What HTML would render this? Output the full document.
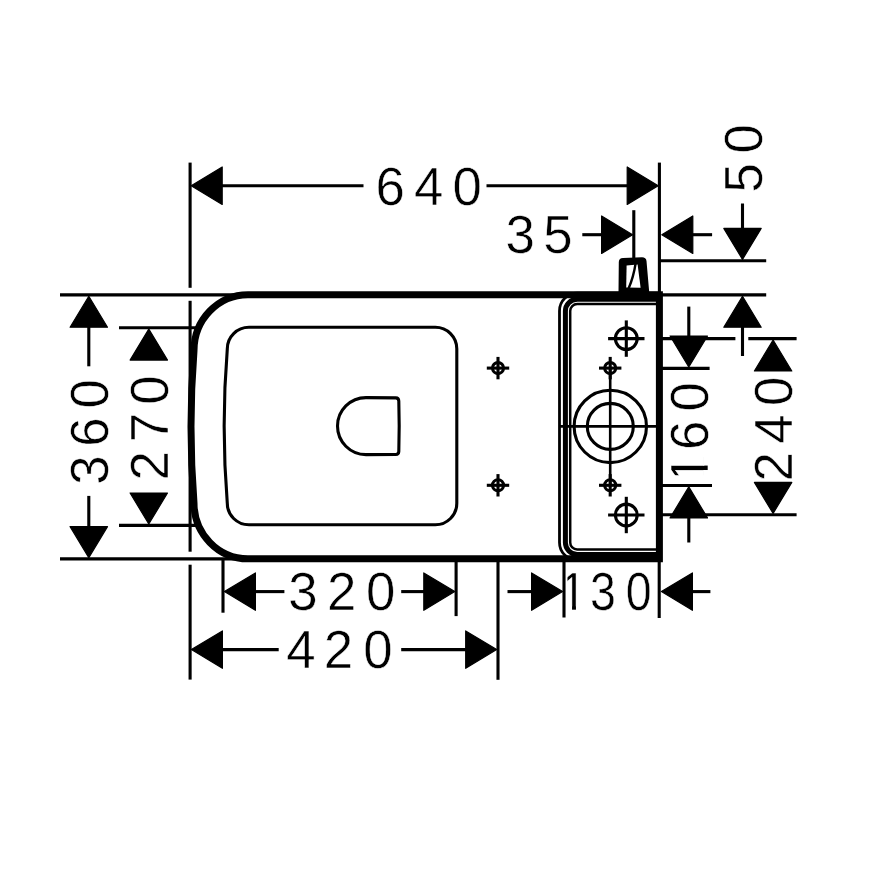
<!DOCTYPE html>
<html lang="en">
<head>
<meta charset="utf-8">
<title>Dimension drawing</title>
<style>
html,body{margin:0;padding:0;background:#fff;}
body{width:869px;height:869px;overflow:hidden;}
svg{display:block;}
svg .a{fill:#000;stroke:none;}
svg .ar{fill:#000;stroke:#000;stroke-width:1.2px;stroke-linejoin:round;}
svg .w{fill:#fff;stroke:none;}
svg text{font-family:"Liberation Sans",sans-serif;font-size:52.8px;fill:#000;stroke:#fff;stroke-width:0.5px;}
</style>
</head>
<body>
<svg width="869" height="869" viewBox="0 0 869 869">
<rect class="w" x="0" y="0" width="869" height="869"/>
<g>
<text transform="translate(0 204.6)" x="375.54 413.88 452.52" y="0">640</text>
<text transform="translate(0 253.2)" x="505.38 543.37" y="0">35</text>
<text transform="translate(762.1 0) rotate(-90)" x="-192.43 -153.38" y="0">50</text>
<text transform="translate(708 0) rotate(-90)" x="-483.4 -450.06 -411.48" y="0">160</text>
<text transform="translate(792.1 0) rotate(-90)" x="-481.38 -443.72 -406.08" y="0">240</text>
<text transform="translate(108.1 0) rotate(-90)" x="-484.82 -446.86 -408.38" y="0">360</text>
<text transform="translate(167.6 0) rotate(-90)" x="-480.38 -442.2 -404.78" y="0">270</text>
<text transform="translate(0 610.4)" x="288.28 327.02 366.12" y="0">320</text>
<text transform="translate(0 610.2) scale(0.88 1)" x="636.67 670.59 711.12" y="0">130</text>
<text transform="translate(0 668.2)" x="286.18 323.72 363.22" y="0">420</text>
</g>
<g>
<g transform="translate(708 0) rotate(-90)"><rect class="w" x="-480.76" y="-4.33" width="10.74" height="5.83"/><rect class="w" x="-465.58" y="-4.33" width="10.69" height="5.83"/><rect class="w" x="-480.76" y="-38.02" width="5.54" height="34.85"/></g>
<g transform="translate(0 610.2) scale(0.88 1)"><rect class="w" x="639.31" y="-4.33" width="10.74" height="5.83"/><rect class="w" x="654.49" y="-4.33" width="10.69" height="5.83"/><rect class="w" x="639.31" y="-38.02" width="5.54" height="34.85"/></g>
</g>
<g fill="none" stroke="#000" stroke-width="3.1">
<path stroke-width="7.0" stroke-linejoin="miter" d="M659.4,294.7 L248,294.7 A54,55.8 0 0 0 194,350.5 Q188,426.7 194,503 A54,55.8 0 0 0 248,558.8 L659.4,558.8 Z"/>
<path d="M249,327.3 L435.3,327.3 A21.5,21.5 0 0 1 456.8,348.8 L456.8,503.3 A21.5,21.5 0 0 1 435.3,524.8 L249,524.8 A21.7,21.5 0 0 1 227.3,503.3 Q221,426 227.3,348.8 A21.7,21.5 0 0 1 249,327.3 Z"/>
<path d="M395.8,397.9 Q398.7,398 398.8,401 Q399.6,426 398.8,451.5 Q398.7,454.4 395.8,454.5 L366,454.6 A28.5,28.5 0 0 1 366,397.6 Z"/>
<path stroke-width="2.8" d="M659,293.1 L577.3,293.1 A17.8,17.8 0 0 0 559.5,310.9 L559.5,542.5 A17.8,17.8 0 0 0 577.3,560.3 L659,560.3"/>
<path stroke-width="5.0" d="M659,299.2 L577.2,299.2 A11.8,11.8 0 0 0 565.4,311 L565.4,542.6 A11.8,11.8 0 0 0 577.2,554.4 L659,554.4"/>
<path stroke-width="2.5" d="M659,304.1 L577.2,304.1 A7,7 0 0 0 570.2,311.1 L570.2,542.5 A7,7 0 0 0 577.2,549.5 L659,549.5"/>
<circle cx="498.0" cy="368.1" r="5.5"/>
<line x1="486.8" y1="368.1" x2="509.2" y2="368.1"/>
<line x1="498" y1="356.9" x2="498" y2="379.3"/>
<circle cx="498.0" cy="485.3" r="5.5"/>
<line x1="486.8" y1="485.3" x2="509.2" y2="485.3"/>
<line x1="498" y1="474.1" x2="498" y2="496.5"/>
<circle cx="610.2" cy="368.1" r="5.5"/>
<line x1="599" y1="368.1" x2="621.4" y2="368.1"/>
<line x1="610.2" y1="356.9" x2="610.2" y2="379.3"/>
<circle cx="610.2" cy="485.3" r="5.5"/>
<line x1="599" y1="485.3" x2="621.4" y2="485.3"/>
<line x1="610.2" y1="474.1" x2="610.2" y2="496.5"/>
<circle cx="626.3" cy="338.6" r="10.9"/>
<line x1="608.1" y1="338.6" x2="644.5" y2="338.6"/>
<line x1="626.3" y1="320.4" x2="626.3" y2="356.8"/>
<circle cx="626.3" cy="515.0" r="10.9"/>
<line x1="608.1" y1="515" x2="644.5" y2="515"/>
<line x1="626.3" y1="496.8" x2="626.3" y2="533.2"/>
<circle cx="610.3" cy="426.4" r="36.2"/>
<circle cx="610.3" cy="426.4" r="23"/>
<line x1="559" y1="426.4" x2="657" y2="426.4" stroke-width="2.6"/>
<line x1="610.2" y1="368" x2="610.2" y2="485" stroke-width="2.6"/>
<path class="a" d="M618.5,292 L618.8,262 Q619,258 623,258 L642,257.3 Q646,257.3 646.5,261 L649.2,292 Z"/>
<path class="w" d="M626.2,287.6 L626.6,265.4 L637.6,264.6 L640.6,287.8 Z"/>
<path stroke-width="2.4" d="M635.6,263.5 Q633.5,277 628.6,288.5"/>
<line x1="190.1" y1="162.6" x2="190.1" y2="287.8"/>
<line x1="190.1" y1="300.8" x2="190.1" y2="551.7"/>
<line x1="190.1" y1="564.7" x2="190.1" y2="679.6"/>
<line x1="659.4" y1="162.6" x2="659.4" y2="292"/>
<line x1="633.8" y1="210.2" x2="633.8" y2="258"/>
<line x1="60" y1="294.9" x2="248" y2="294.9"/>
<line x1="60" y1="558.9" x2="248" y2="558.9"/>
<line x1="119" y1="327.7" x2="196" y2="327.7"/>
<line x1="119" y1="525.4" x2="196" y2="525.4"/>
<line x1="223" y1="558" x2="223" y2="612.7"/>
<line x1="456.1" y1="558" x2="456.1" y2="616.1"/>
<line x1="498" y1="558" x2="498" y2="679.8"/>
<line x1="564" y1="558" x2="564" y2="617.5"/>
<line x1="659.2" y1="558" x2="659.2" y2="618"/>
<line x1="660" y1="260.8" x2="766.2" y2="260.8"/>
<line x1="660" y1="294.9" x2="766.2" y2="294.9"/>
<line x1="660" y1="338.6" x2="735.4" y2="338.6"/>
<line x1="748.3" y1="338.6" x2="796.6" y2="338.6"/>
<line x1="660" y1="368.4" x2="709.6" y2="368.4"/>
<line x1="660" y1="485.5" x2="712" y2="485.5"/>
<line x1="660" y1="514.8" x2="796.6" y2="514.8"/>
<polygon class="ar" points="191.2,185.7 222.2,167 222.2,204.4"/>
<line x1="220" y1="185.7" x2="363.5" y2="185.7"/>
<line x1="486.5" y1="185.7" x2="630" y2="185.7"/>
<polygon class="ar" points="658.2,185.7 627.2,167 627.2,204.4"/>
<line x1="582.3" y1="234.7" x2="604" y2="234.7"/>
<polygon class="ar" points="632.6,234.7 601.6,216 601.6,253.4"/>
<polygon class="ar" points="661.8,234.7 692.8,216 692.8,253.4"/>
<line x1="690" y1="234.7" x2="712.1" y2="234.7"/>
<line x1="742.5" y1="203.5" x2="742.5" y2="230"/>
<polygon class="ar" points="742.5,259.4 723.8,228.4 761.2,228.4"/>
<polygon class="ar" points="742.5,296.2 723.8,327.2 761.2,327.2"/>
<line x1="742.5" y1="325" x2="742.5" y2="356"/>
<line x1="688.8" y1="306.6" x2="688.8" y2="338"/>
<polygon class="ar" points="688.8,367 670.1,336 707.5,336"/>
<polygon class="ar" points="688.8,486.9 670.1,517.9 707.5,517.9"/>
<line x1="688.8" y1="515" x2="688.8" y2="542.5"/>
<polygon class="ar" points="773.1,340 754.4,371 791.8,371"/>
<polygon class="ar" points="773.1,513.4 754.4,482.4 791.8,482.4"/>
<polygon class="ar" points="88.8,296.2 70.1,327.2 107.5,327.2"/>
<line x1="88.8" y1="325" x2="88.8" y2="366.3"/>
<line x1="88.8" y1="495.9" x2="88.8" y2="528"/>
<polygon class="ar" points="88.8,557.6 70.1,526.6 107.5,526.6"/>
<polygon class="ar" points="148.8,329.1 130.1,360.1 167.5,360.1"/>
<polygon class="ar" points="148.8,524 130.1,493 167.5,493"/>
<polygon class="ar" points="224.4,591.6 255.4,572.9 255.4,610.3"/>
<line x1="254" y1="591.6" x2="284.4" y2="591.6"/>
<line x1="401.2" y1="591.6" x2="426" y2="591.6"/>
<polygon class="ar" points="454.8,591.6 423.8,572.9 423.8,610.3"/>
<line x1="507.5" y1="591.6" x2="534" y2="591.6"/>
<polygon class="ar" points="562.6,591.6 531.6,572.9 531.6,610.3"/>
<polygon class="ar" points="661.4,591.6 692.4,572.9 692.4,610.3"/>
<line x1="690" y1="591.6" x2="710.4" y2="591.6"/>
<polygon class="ar" points="191.4,649.6 222.4,630.9 222.4,668.3"/>
<line x1="220" y1="649.6" x2="278.7" y2="649.6"/>
<line x1="401.2" y1="649.6" x2="468" y2="649.6"/>
<polygon class="ar" points="496.7,649.6 465.7,630.9 465.7,668.3"/>
</g>
</svg>
</body>
</html>
